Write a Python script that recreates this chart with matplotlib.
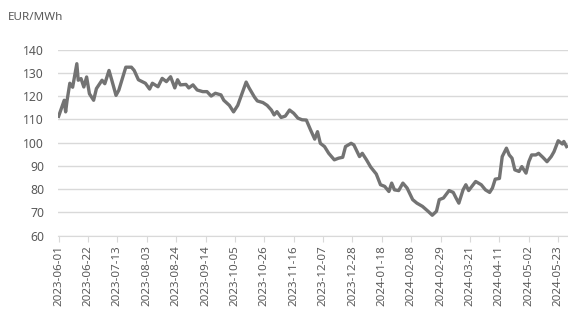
import matplotlib; matplotlib.use("Agg")
import matplotlib.pyplot as plt
import matplotlib.dates as mdates
import pandas as pd

# EEX front contract price, EUR/MWh
dates = ["2023-06-01","2023-06-05","2023-06-06","2023-06-07","2023-06-09","2023-06-11",
         "2023-06-14","2023-06-15","2023-06-17","2023-06-19","2023-06-21","2023-06-23",
         "2023-06-26","2023-06-28","2023-07-02","2023-07-04","2023-07-07","2023-07-09",
         "2023-07-12","2023-07-14","2023-07-19","2023-07-23","2023-07-25","2023-07-28",
         "2023-08-02","2023-08-05","2023-08-07","2023-08-11","2023-08-14","2023-08-17",
         "2023-08-20","2023-08-23","2023-08-25","2023-08-27","2023-08-31","2023-09-02",
         "2023-09-05","2023-09-08","2023-09-12","2023-09-15","2023-09-18","2023-09-21",
         "2023-09-25","2023-09-27","2023-10-01","2023-10-04","2023-10-07","2023-10-10",
         "2023-10-13","2023-10-15","2023-10-19","2023-10-21","2023-10-25","2023-10-28",
         "2023-10-31","2023-11-02","2023-11-04","2023-11-07","2023-11-10","2023-11-13",
         "2023-11-16","2023-11-19","2023-11-22","2023-11-25","2023-11-28","2023-12-01",
         "2023-12-03","2023-12-05","2023-12-08","2023-12-11","2023-12-15","2023-12-18",
         "2023-12-21","2023-12-23","2023-12-27","2023-12-29","2024-01-02","2024-01-04",
         "2024-01-07","2024-01-10","2024-01-14","2024-01-17","2024-01-20","2024-01-23",
         "2024-01-25","2024-01-27","2024-01-30","2024-02-02","2024-02-05","2024-02-09",
         "2024-02-12","2024-02-16","2024-02-20","2024-02-23","2024-02-26","2024-02-28",
         "2024-03-02","2024-03-06","2024-03-09","2024-03-11","2024-03-13","2024-03-16",
         "2024-03-18","2024-03-20","2024-03-25","2024-03-29","2024-04-01","2024-04-04",
         "2024-04-06","2024-04-08","2024-04-11","2024-04-13","2024-04-16","2024-04-18",
         "2024-04-20","2024-04-22","2024-04-25","2024-04-27","2024-04-30","2024-05-02",
         "2024-05-04","2024-05-07","2024-05-09","2024-05-12","2024-05-15","2024-05-18",
         "2024-05-20","2024-05-23","2024-05-26","2024-05-27","2024-05-29"]
prices = [111.3,118.2,113.2,118.0,125.5,123.8,
          133.9,126.8,127.5,123.9,128.2,121.0,
          118.2,123.2,126.8,125.3,131.0,126.8,
          120.3,122.5,132.4,132.4,131.0,127.0,
          125.5,123.0,125.5,124.0,127.6,126.2,
          128.3,123.5,127.0,124.8,125.0,123.5,
          124.8,122.6,121.9,121.9,120.0,121.2,
          120.5,118.2,116.0,113.2,116.0,121.0,
          126.0,123.6,119.5,117.9,117.2,116.0,
          114.0,111.9,113.3,110.8,111.4,114.0,
          112.6,110.5,109.8,109.7,105.5,101.5,
          104.7,99.7,98.3,95.4,92.6,93.3,
          93.7,98.3,99.7,99.0,94.0,95.4,
          92.6,89.5,86.5,81.9,81.2,79.0,
          82.6,79.7,79.4,82.6,80.5,75.5,
          74.0,72.6,70.5,68.8,70.5,75.5,
          76.2,79.4,78.6,76.2,74.0,79.7,
          81.9,79.4,83.3,81.9,79.7,78.6,
          80.5,84.3,84.6,94.0,97.6,94.7,
          93.3,88.3,87.6,89.7,86.9,91.8,
          94.7,94.7,95.4,93.7,91.8,94.0,
          96.1,100.8,99.4,100.5,98.3]

tick_dates = pd.date_range("2023-06-01", "2024-05-23", freq="21D")
yticks = [60, 70, 80, 90, 100, 110, 120, 130, 140]
unit = "EUR/MWh"

plt.rcParams['font.family'] = ['Noto Sans', 'DejaVu Sans']
txt = "#595959"
grid = "#d9d9d9"

fig = plt.figure(figsize=(5.68, 3.20), dpi=100)
ax = fig.add_axes([0.102, 0.2634, 0.898, 0.5819])

x = pd.to_datetime(dates)
ax.plot(x, prices, color="#737373", lw=2.4, solid_joinstyle="round", zorder=3)

ax.set_ylim(60, 140)
ax.set_yticks(yticks)
ax.set_xlim(pd.Timestamp("2023-05-31 12:00"), pd.Timestamp("2024-05-30"))
ax.set_xticks(tick_dates)
ax.xaxis.set_major_formatter(mdates.DateFormatter("%Y-%m-%d"))

ax.yaxis.grid(True, color=grid, lw=1)
ax.set_axisbelow(True)
for s in ["top", "right", "left"]:
    ax.spines[s].set_visible(False)
ax.spines["bottom"].set_color(grid)
ax.tick_params(axis="y", length=0, pad=10, labelsize=8.8, labelcolor=txt)
ax.tick_params(axis="x", length=4, color=grid, pad=3, labelsize=8.3,
               labelcolor=txt, rotation=90)

fig.text(0.014, 0.945, unit, fontsize=8.4, color=txt, va="center", ha="left")

fig.savefig("out.png", dpi=100)
